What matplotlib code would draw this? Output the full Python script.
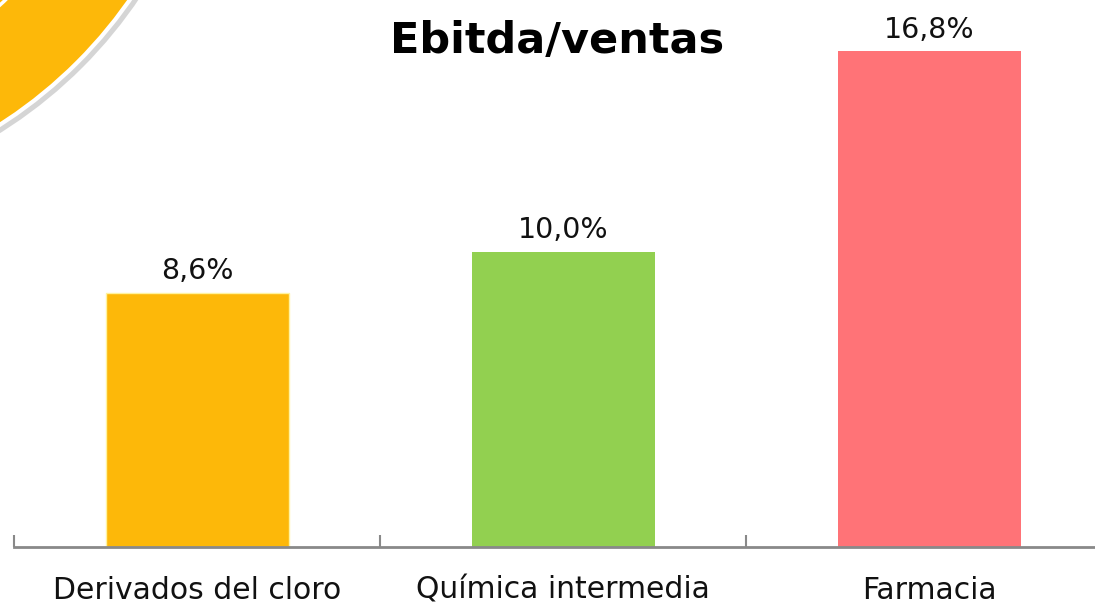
import matplotlib.pyplot as plt
from matplotlib.patches import Circle

categories = ['Derivados del cloro', 'Química intermedia', 'Farmacia']
values = [8.6, 10.0, 16.8]
labels = ['8,6%', '10,0%', '16,8%']
colors = ['#FDB809', '#92D050', '#FF7377']
title = 'Ebitda/ventas'

fig = plt.figure(figsize=(10.95, 6.04), dpi=100)
W, H = 1095, 604

# decorative circle in the top-left corner (display pixels, y from bottom)
cx, cy, r = -250, H + 265, 463
shadow = Circle((cx + 3, cy - 3), r + 3, transform=None, facecolor='#c4c4c4',
                edgecolor='none', alpha=0.7, zorder=0)
disc = Circle((cx, cy), r, transform=None, facecolor='#FDB809',
              edgecolor='white', linewidth=3, zorder=1)
ring = Circle((cx, cy), 368, transform=None, facecolor='none',
              edgecolor='white', linewidth=2.5, zorder=2)
fig.patches.extend([shadow, disc, ring])

# axes span from x=14 to 14+3*366 px, baseline at y=547
ax = fig.add_axes([14 / W, (H - 547) / H, 1098 / W, 546 / H])
ax.set_xlim(-0.5, 2.5)
ax.set_ylim(0, 546 / 29.5)
ax.patch.set_alpha(0)

x = range(len(categories))
ax.bar(x, values, width=0.5, color=colors, edgecolor=['#FFF3A0', 'none', 'none'],
       linewidth=1, zorder=2)

for xi, v, lab in zip(x, values, labels):
    ax.annotate(lab, (xi, v), xytext=(0, 10), textcoords='offset points',
                ha='center', va='baseline', fontsize=20.5, color='#111111')

for s in ['top', 'left', 'right']:
    ax.spines[s].set_visible(False)
ax.spines['bottom'].set_color('#898989')
ax.spines['bottom'].set_linewidth(2)
ax.set_yticks([])
ax.set_xticks([-0.5, 0.5, 1.5, 2.5])
ax.set_xticklabels([])
ax.tick_params(axis='x', direction='in', length=9, width=1.5, color='#898989')

# category names sit right at the bottom edge, as in the reference
for xi, c in zip(x, categories):
    ax.text(xi, -52 / 29.5, c, ha='center', va='baseline', fontsize=21.5,
            color='#111111', clip_on=False)

fig.text(557 / W, 1 - 53 / H, title, ha='center', va='baseline',
         fontsize=31, fontweight='bold', color='black')

plt.savefig('out.png', dpi=100)
